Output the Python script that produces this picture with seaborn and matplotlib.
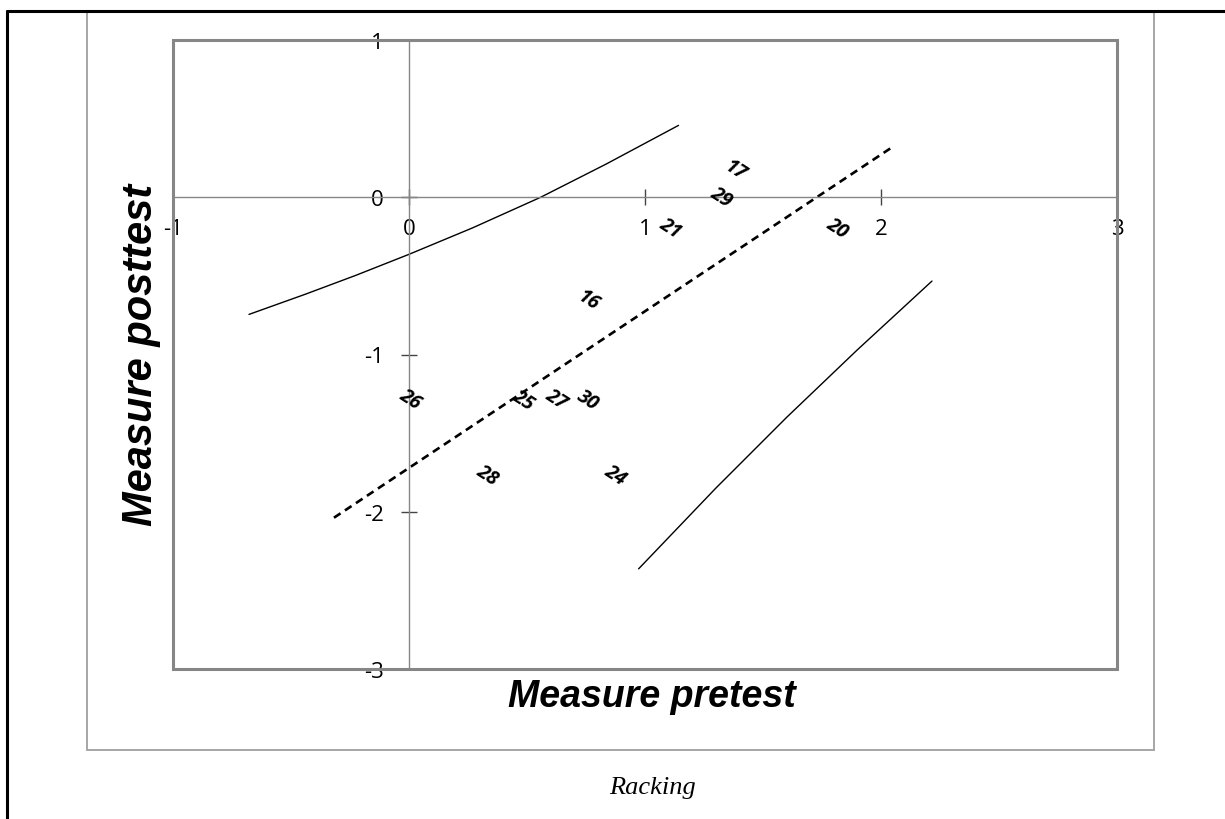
import matplotlib
matplotlib.use("Agg")
import matplotlib.pyplot as plt
from matplotlib.lines import Line2D
from matplotlib.patches import Rectangle
import seaborn as sns
import pandas as pd

# Person labels with (pretest, posttest) measures
person_ids = ["17", "29", "21", "20", "16", "26", "25", "27", "30", "28", "24"]
pretest = [1.381, 1.325, 1.107, 1.814, 0.760, 0.003, 0.483, 0.622, 0.756, 0.332, 0.873]
posttest = [0.174, 0.004, -0.195, -0.195, -0.654, -1.278, -1.285, -1.278, -1.285, -1.764, -1.764]

# Identity (shifted) line
trend_x = [-0.318, 2.047]
trend_y = [-2.038, 0.318]

# Upper and lower control curves
upper_x = [-0.678, -0.438, -0.226, 0.0, 0.269, 0.558, 0.834, 1.142]
upper_y = [-0.745, -0.616, -0.497, -0.363, -0.195, 0.0, 0.210, 0.457]
lower_x = [0.973, 1.30, 1.60, 1.90, 2.216]
lower_y = [-2.363, -1.85, -1.40, -0.97, -0.533]

x_ticks = [-1, 0, 1, 2, 3]
y_ticks = [-3, -2, -1, 0, 1]

sns.set_style("white")
plt.rcParams["font.family"] = ["Open Sans", "DejaVu Sans"]
plt.rcParams["text.color"] = "black"

W, H = 1225, 820
fig = plt.figure(figsize=(W / 100, H / 100), dpi=100)

# outer cell border (top and left)
fig.add_artist(Line2D([7 / W, 1.0], [1 - 12 / H, 1 - 12 / H], color="black", lw=2.2))
fig.add_artist(Line2D([7 / W, 7 / W], [0, 1 - 12 / H], color="black", lw=2.2))
# chart frame
fig.add_artist(Rectangle((87 / W, 1 - 751 / H), (1154 - 87) / W, (751 - 12) / H,
                         transform=fig.transFigure, fill=False, edgecolor="#a6a6a6", lw=1.4))

ax = fig.add_axes([173 / W, 1 - 670 / H, (1117 - 173) / W, (670 - 41) / H])
ax.set_xlim(-1, 3)
ax.set_ylim(-3, 1)

# Plot-area border
ax.add_patch(Rectangle((0, 0), 1, 1, transform=ax.transAxes, fill=False,
                       edgecolor="#868686", lw=2.2, clip_on=False, zorder=5))

# Axes crossing at zero
for side in ("top", "right"):
    ax.spines[side].set_visible(False)
ax.spines["left"].set_position(("data", 0))
ax.spines["bottom"].set_position(("data", 0))
for side in ("left", "bottom"):
    ax.spines[side].set_color("#868686")
    ax.spines[side].set_linewidth(1.0)

ax.set_xticks(x_ticks)
ax.set_yticks(y_ticks)
ax.set_xticklabels([str(v) for v in x_ticks])
ax.set_yticklabels([str(v) for v in y_ticks])
ax.tick_params(axis="both", which="major", bottom=True, left=True, direction="inout",
               length=12, width=1.0, color="#444444", labelsize=16, labelcolor="black")
ax.tick_params(axis="x", pad=9)
ax.tick_params(axis="y", pad=12)

lw_curve = 1.0
sns.lineplot(x=upper_x, y=upper_y, ax=ax, color="black", lw=lw_curve, sort=False, estimator=None)
sns.lineplot(x=lower_x, y=lower_y, ax=ax, color="black", lw=lw_curve, sort=False, estimator=None)
sns.lineplot(x=trend_x, y=trend_y, ax=ax, color="black", lw=1.9, sort=False,
             estimator=None, linestyle=(0, (3, 2)))

df = pd.DataFrame({"id": person_ids, "pre": pretest, "post": posttest})
for _, r in df.iterrows():
    ax.text(r["pre"], r["post"], r["id"], rotation=-33, rotation_mode="anchor",
            ha="center", va="center", fontsize=14, fontweight="bold", color="black",
            fontstyle="italic", family=["Open Sans", "DejaVu Sans"])

ax.set_xlabel("")
ax.set_ylabel("")

fig.text(652 / W, 1 - 697 / H, "Measure pretest", ha="center", va="center", color="black",
         fontsize=27, fontweight="bold", fontstyle="italic", family="Liberation Sans")
fig.text(141 / W, 1 - 355 / H, "Measure posttest", ha="center", va="center", rotation=90,
         color="black", fontsize=30, fontweight="bold", fontstyle="italic",
         family="Liberation Sans")
fig.text(653 / W, 1 - 788 / H, "Racking", ha="center", va="center", color="black",
         fontsize=19, fontstyle="italic", family="Liberation Serif")

fig.savefig("out.png", dpi=100, facecolor="white")
